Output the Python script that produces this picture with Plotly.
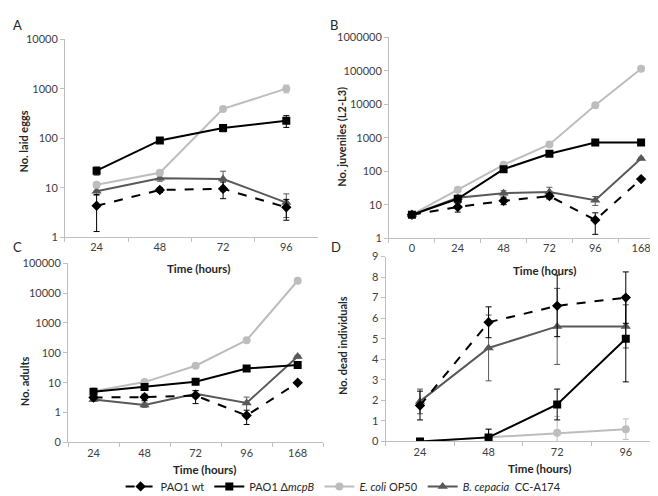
import plotly.graph_objects as go

# ---------------- data ----------------
series_names = ["PAO1 wt", "PAO1 Δ<i>mcpB</i>", "<i>E. coli</i> OP50", "<i>B. cepacia</i>  CC-A174"]

# Panel A: No. laid eggs
a_times = ["24", "48", "72", "96"]
a_wt = [4.3, 9.0, 9.5, 4.0]
a_wt_err = [3.0, 1.0, 3.5, 1.8]
a_mcp = [22, 90, 160, 225]
a_mcp_err = [4, 6, 25, 60]
a_eco = [11.5, 20, 390, 1000]
a_eco_err = [1, 2, 30, 180]
a_bce = [8.5, 15.5, 15, 5]
a_bce_err = [1.5, 2, 6.5, 2.5]

# Panel B: No. juveniles (L2-L3)
b_times = ["0", "24", "48", "72", "96", "168"]
b_wt = [5, 8.5, 13, 18, 3.5, 58]
b_wt_err = [0.5, 2.5, 3, 3, 2.2, 5]
b_mcp = [5, 15, 115, 330, 720, 720]
b_mcp_err = [0.5, 3, 10, 30, 40, 40]
b_eco = [5, 28, 155, 630, 9300, 115000]
b_eco_err = [0.5, 3, 15, 50, 600, 5000]
b_bce = [5, 16, 22, 24, 13.5, 240]
b_bce_err = [0.5, 3, 4, 9, 4, 20]

# Panel C: No. adults
c_times = ["24", "48", "72", "96", "168"]
c_wt = [3.2, 3.3, 3.7, 0.8, 10]
c_wt_err = [0.5, 0.8, 1.7, 0.4, 1]
c_mcp = [5, 7.2, 10.8, 30, 39]
c_mcp_err = [0.5, 1, 1.5, 5, 4]
c_eco = [5.2, 10.5, 37, 265, 26000]
c_eco_err = [0.5, 1, 3, 20, 1500]
c_bce = [2.75, 1.8, 4.3, 2.1, 75]
c_bce_err = [0.4, 0.3, 1.2, 1.2, 8]

# Panel D: No. dead individuals
d_times = ["24", "48", "72", "96"]
d_wt = [1.75, 5.8, 6.6, 7.0]
d_wt_err = [0.7, 0.75, 1.5, 1.25]
d_mcp = [0, 0.2, 1.8, 5.0]
d_mcp_err = [0, 0.4, 0.75, 2.1]
d_eco = [0, 0.2, 0.42, 0.6]
d_eco_err = [0, 0.4, 0.8, 0.5]
d_bce = [1.95, 4.55, 5.6, 5.6]
d_bce_err = [0.6, 1.6, 1.85, 1.05]

log_ticks_a = [1, 10, 100, 1000, 10000]
log_ticks_b = [1, 10, 100, 1000, 10000, 100000, 1000000]
log_ticks_c = [0.1, 1, 10, 100, 1000, 10000, 100000]
log_text_c = ["0", "1", "10", "100", "1000", "10000", "100000"]
lin_ticks_d = list(range(0, 10))

# ---------------- styles ----------------
styles = [
    dict(color="#000000", dash="dash", symbol="diamond", size=8),
    dict(color="#000000", dash="solid", symbol="square", size=8),
    dict(color="#bdbdbd", dash="solid", symbol="circle", size=8),
    dict(color="#595959", dash="solid", symbol="triangle-up", size=9),
]

fig = go.Figure()

panels = [
    ("x", "y", a_times, [(a_wt, a_wt_err), (a_mcp, a_mcp_err), (a_eco, a_eco_err), (a_bce, a_bce_err)]),
    ("x2", "y2", b_times, [(b_wt, b_wt_err), (b_mcp, b_mcp_err), (b_eco, b_eco_err), (b_bce, b_bce_err)]),
    ("x3", "y3", c_times, [(c_wt, c_wt_err), (c_mcp, c_mcp_err), (c_eco, c_eco_err), (c_bce, c_bce_err)]),
    ("x4", "y4", d_times, [(d_wt, d_wt_err), (d_mcp, d_mcp_err), (d_eco, d_eco_err), (d_bce, d_bce_err)]),
]

draw_order = [3, 0, 2, 1]
for pi, (xa, ya, times, data) in enumerate(panels):
    for si in draw_order:
        vals, errs = data[si]
        st = styles[si]
        fig.add_trace(go.Scatter(
            x=times, y=vals, xaxis=xa, yaxis=ya,
            mode="lines+markers",
            name=series_names[si],
            legendrank=si + 1,
            showlegend=(pi == 0),
            line=dict(color=st["color"], dash=st["dash"], width=2),
            marker=dict(symbol=st["symbol"], size=st["size"], color=st["color"]),
            error_y=dict(type="data", array=errs, visible=True, color=st["color"],
                         thickness=1, width=3),
        ))

axis_common = dict(showgrid=False, zeroline=False, showline=True, linecolor="#bfbfbf", linewidth=1,
                   ticks="outside", tickcolor="#bfbfbf", ticklen=4,
                   tickfont=dict(size=11, color="#404040", family="Lato"))

def xax(domain, anchor, n):
    return dict(axis_common, domain=domain, anchor=anchor, type="category",
                tickson="boundaries", range=[-0.5, n - 0.5])

fig.update_layout(
    width=658, height=496,
    margin=dict(l=0, r=0, t=0, b=0),
    paper_bgcolor="white", plot_bgcolor="white",
    font=dict(family="Lato", color="#262626"),
    xaxis=xax([0.0866, 0.471], "y", 4),
    yaxis=dict(axis_common, domain=[0.540, 0.950], anchor="x", type="log", range=[0, 4],
               tickvals=log_ticks_a, ticktext=[str(v) for v in log_ticks_a]),
    xaxis2=xax([0.579, 0.997], "y2", 6),
    yaxis2=dict(axis_common, domain=[0.538, 0.954], anchor="x2", type="log", range=[0, 6],
                tickvals=log_ticks_b, ticktext=[str(v) for v in log_ticks_b]),
    xaxis3=xax([0.0912, 0.479], "y3", 5),
    yaxis3=dict(axis_common, domain=[0.115, 0.486], anchor="x3", type="log", range=[-1, 5],
                tickvals=log_ticks_c, ticktext=log_text_c),
    xaxis4=xax([0.574, 0.991], "y4", 4),
    yaxis4=dict(axis_common, domain=[0.117, 0.500], anchor="x4", range=[0, 9],
                tickvals=lin_ticks_d),
    legend=dict(orientation="h", x=0.51, xanchor="center", y=-0.006, yanchor="bottom",
                font=dict(size=11, color="#262626", family="Lato"), itemwidth=30,
                tracegroupgap=0, bgcolor="rgba(0,0,0,0)"),
)

def px_ann(text, x, y, size=11, bold=False, angle=0):
    fig.add_annotation(text=("<b>%s</b>" % text) if bold else text,
                       x=x / 658, y=1 - y / 496, xref="paper", yref="paper",
                       showarrow=False, textangle=angle,
                       font=dict(size=size, color="#262626", family="Lato"),
                       xanchor="center", yanchor="middle")

# panel letters
px_ann("A", 9, 10, size=13)
px_ann("B", 326, 10, size=13)
px_ann("C", 9, 238, size=13)
px_ann("D", 328, 238, size=13)

# y axis titles
px_ann("No. laid eggs", 16, 130, size=11, bold=True, angle=-90)
px_ann("No. juveniles (L2-L3)", 334, 125, size=11, bold=True, angle=-90)
px_ann("No. adults", 16, 376, size=11, bold=True, angle=-90)
px_ann("No. dead individuals", 334, 340, size=11, bold=True, angle=-90)

# x axis titles
px_ann("Time (hours)", 190, 260, size=11.5, bold=True)
px_ann("Time (hours)", 536, 262, size=11.5, bold=True)
px_ann("Time (hours)", 196, 467, size=11.5, bold=True)
px_ann("Time (hours)", 531, 466, size=11.5, bold=True)

fig.write_html("out.html")
